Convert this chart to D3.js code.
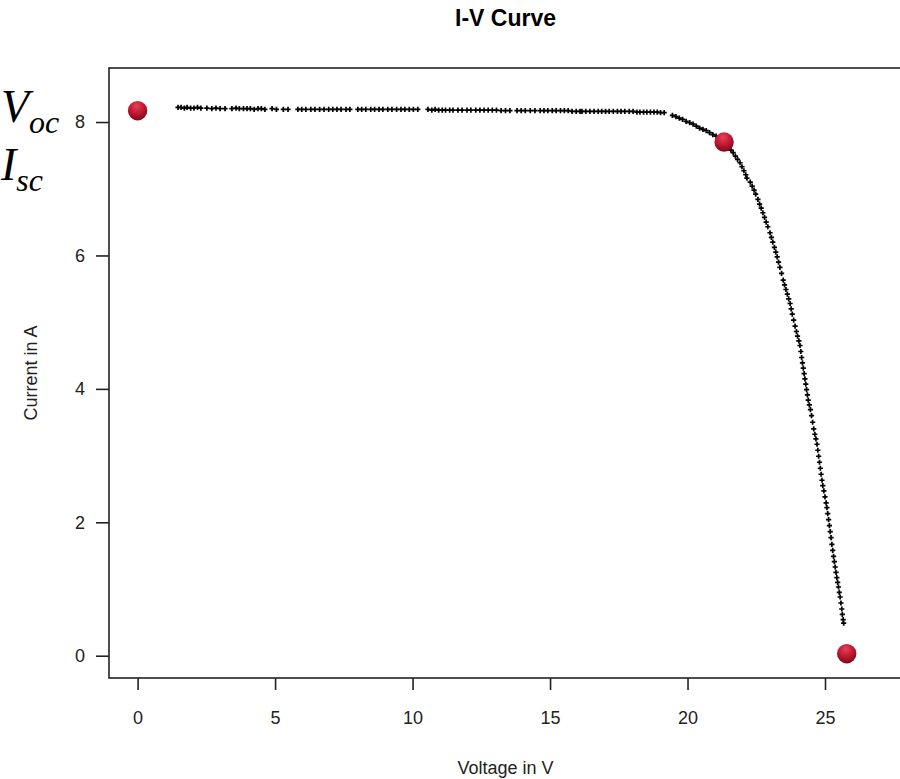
<!DOCTYPE html>
<html>
<head>
<meta charset="utf-8">
<script src="https://cdn.jsdelivr.net/npm/d3@7"></script>
<style>
  html, body { margin: 0; padding: 0; background: #fff; }
  svg { display: block; }
</style>
</head>
<body>
<svg id="chart" width="900" height="779"></svg>
<script>
// Measured I-V samples: voltage (V) and current (A)
const voltage = [
  1.47, 1.58, 1.70, 1.80, 1.93, 2.05, 2.18, 2.30,
  2.52, 2.70, 2.85, 3.00, 3.18,
  3.43, 3.58, 3.70, 3.85, 3.98, 4.10, 4.24, 4.38, 4.50, 4.63,
  4.89, 5.05, 5.30, 5.47,
  5.83, 5.97, 6.12, 6.30, 6.45, 6.62, 6.78, 6.95, 7.10, 7.25, 7.40, 7.58, 7.72,
  8.01, 8.15, 8.30, 8.48, 8.62, 8.78, 8.92,
  9.10, 9.25, 9.42, 9.58, 9.72, 9.88, 10.03, 10.19,
  10.56, 10.70, 10.82, 10.95, 11.08, 11.20, 11.35, 11.47,
  11.65, 11.80, 11.98, 12.12, 12.30, 12.45, 12.60, 12.75, 12.90, 13.05, 13.22, 13.38, 13.54,
  13.80, 13.95, 14.10, 14.28, 14.45,
  14.64, 14.78, 14.92, 15.08, 15.22, 15.38, 15.52, 15.66, 15.80, 15.95, 16.09,
  16.16, 16.30, 16.45, 16.60, 16.75, 16.88, 17.02, 17.15, 17.30, 17.45, 17.58, 17.72, 17.88, 18.02, 18.16,
  18.27, 18.40, 18.52, 18.65, 18.78, 18.90, 19.02, 19.15,
  19.45, 19.58, 19.70, 19.82, 19.95, 20.08, 20.20, 20.32, 20.44, 20.56, 20.68, 20.80, 20.92, 21.04,
  21.14, 21.24, 21.33, 21.42, 21.50, 21.58, 21.66, 21.74, 21.82, 21.91, 21.98, 22.05, 22.12, 22.16,
  22.28, 22.35, 22.42, 22.48, 22.56, 22.62, 22.68, 22.74, 22.80, 22.86, 22.92, 23.00, 23.05, 23.10,
  23.16, 23.21, 23.26, 23.31, 23.36, 23.42, 23.48, 23.53, 23.58, 23.63, 23.68, 23.73, 23.77, 23.81,
  23.86, 23.91, 23.96, 24.00, 24.05, 24.09,
  24.12, 24.15, 24.18, 24.21, 24.24, 24.27, 24.30, 24.33, 24.36, 24.39, 24.43, 24.47, 24.51, 24.55,
  24.59, 24.63, 24.67, 24.71, 24.74, 24.77, 24.80, 24.83, 24.86, 24.89, 24.92, 24.96, 25.00, 25.04,
  25.07, 25.10, 25.13, 25.16, 25.19, 25.22, 25.25, 25.28, 25.31, 25.34, 25.37, 25.40, 25.43, 25.46,
  25.49, 25.52, 25.55, 25.58, 25.61, 25.63, 25.66, 25.68
];
const current = [
  8.22, 8.22, 8.21, 8.22, 8.21, 8.21, 8.22, 8.21,
  8.21, 8.20, 8.21, 8.20, 8.20,
  8.20, 8.21, 8.20, 8.20, 8.20, 8.20, 8.19, 8.20, 8.20, 8.19,
  8.20, 8.19, 8.19, 8.19,
  8.19, 8.19, 8.19, 8.19, 8.19, 8.19, 8.19, 8.19, 8.19, 8.19, 8.19, 8.19, 8.19,
  8.19, 8.19, 8.19, 8.19, 8.19, 8.19, 8.19,
  8.19, 8.19, 8.19, 8.19, 8.19, 8.19, 8.19, 8.19,
  8.19, 8.18, 8.19, 8.18, 8.18, 8.18, 8.18, 8.18,
  8.18, 8.18, 8.18, 8.18, 8.18, 8.18, 8.18, 8.18, 8.18, 8.18, 8.17, 8.17, 8.17,
  8.17, 8.17, 8.17, 8.17, 8.17,
  8.17, 8.17, 8.17, 8.17, 8.17, 8.17, 8.17, 8.17, 8.16, 8.16, 8.16,
  8.16, 8.16, 8.16, 8.16, 8.16, 8.16, 8.16, 8.16, 8.16, 8.16, 8.16, 8.16, 8.16, 8.16, 8.15,
  8.15, 8.15, 8.15, 8.15, 8.15, 8.15, 8.14, 8.14,
  8.10, 8.08, 8.06, 8.04, 8.01, 7.99, 7.97, 7.94, 7.91, 7.89, 7.87, 7.84, 7.81, 7.79,
  7.76, 7.73, 7.70, 7.66, 7.62, 7.58, 7.54, 7.49, 7.44, 7.39, 7.33, 7.27, 7.21, 7.16,
  7.10, 7.04, 6.98, 6.92, 6.84, 6.77, 6.71, 6.64, 6.57, 6.50, 6.43, 6.34, 6.27, 6.20,
  6.12, 6.05, 5.98, 5.90, 5.82, 5.73, 5.63, 5.56, 5.49, 5.42, 5.35, 5.28, 5.20, 5.12,
  5.03, 4.94, 4.86, 4.79, 4.72, 4.65,
  4.56, 4.47, 4.39, 4.31, 4.23, 4.15, 4.07, 3.99, 3.91, 3.83, 3.76, 3.69, 3.60, 3.50,
  3.40, 3.32, 3.25, 3.17, 3.08, 2.99, 2.90, 2.81, 2.72, 2.63, 2.55, 2.47, 2.38, 2.29,
  2.22, 2.13, 2.04, 1.95, 1.86, 1.77, 1.67, 1.58, 1.49, 1.41, 1.33, 1.25, 1.17, 1.10,
  1.03, 0.95, 0.88, 0.79, 0.70, 0.62, 0.54, 0.49
];

// Highlighted operating points: short circuit, maximum power, open circuit
const markerV = [0, 21.33, 25.79];
const markerI = [8.17, 7.70, 0.03];

const xTicks = [0, 5, 10, 15, 20, 25];
const yTicks = [0, 2, 4, 6, 8];

const titleText = "I-V Curve";
const xLabel = "Voltage in V";
const yLabel = "Current in A";

const svg = d3.select("#chart");
const frame = { left: 109, top: 68, right: 902, bottom: 678 };

const x = d3.scaleLinear().domain([-1.04, 27.8]).range([frame.left, frame.right]);
const y = d3.scaleLinear().domain([-0.334, 8.81]).range([frame.bottom, frame.top]);

const sans = "'Liberation Sans', Arial, sans-serif";

// Gradient for the highlighted points
const defs = svg.append("defs");
const grad = defs.append("radialGradient")
  .attr("id", "ball").attr("cx", "45%").attr("cy", "30%").attr("r", "70%")
  .attr("fx", "45%").attr("fy", "25%");
grad.append("stop").attr("offset", "0%").attr("stop-color", "#e0455a");
grad.append("stop").attr("offset", "45%").attr("stop-color", "#c81e36");
grad.append("stop").attr("offset", "100%").attr("stop-color", "#820718");

// Title
svg.append("text")
  .attr("x", (frame.left + frame.right) / 2).attr("y", 26)
  .attr("text-anchor", "middle")
  .attr("font-family", sans).attr("font-weight", "bold").attr("font-size", 23)
  .attr("fill", "#000")
  .text(titleText);

// Axes (ticks and labels only; frame drawn separately)
const xAxis = d3.axisBottom(x).tickValues(xTicks).tickSize(12).tickPadding(21).tickFormat(d3.format("d"));
const yAxis = d3.axisLeft(y).tickValues(yTicks).tickSize(13).tickPadding(11).tickFormat(d3.format("d"));

const gx = svg.append("g").attr("transform", `translate(0,${frame.bottom})`).call(xAxis);
const gy = svg.append("g").attr("transform", `translate(${frame.left},0)`).call(yAxis);
[gx, gy].forEach(g => {
  g.select(".domain").remove();
  g.selectAll(".tick line").attr("stroke", "#222").attr("stroke-width", 1.6);
  g.selectAll(".tick text")
    .attr("font-family", sans).attr("font-size", 18).attr("fill", "#222");
});

// Plot frame
svg.append("rect")
  .attr("x", frame.left).attr("y", frame.top)
  .attr("width", frame.right - frame.left).attr("height", frame.bottom - frame.top)
  .attr("fill", "none").attr("stroke", "#222").attr("stroke-width", 1.6);

// Axis titles
svg.append("text")
  .attr("x", (frame.left + frame.right) / 2).attr("y", 774)
  .attr("text-anchor", "middle")
  .attr("font-family", sans).attr("font-size", 18).attr("fill", "#222")
  .text(xLabel);

svg.append("text")
  .attr("transform", `translate(37,${(frame.top + frame.bottom) / 2}) rotate(-90)`)
  .attr("text-anchor", "middle")
  .attr("font-family", sans).attr("font-size", 18).attr("fill", "#222")
  .text(yLabel);

// Scatter of measured points, drawn as small crosses
const samples = voltage.map((v, i) => ({ v, i: current[i] }));
svg.append("g").selectAll("path")
  .data(samples).join("path")
  .attr("transform", d => `translate(${x(d.v)},${y(d.i)})`)
  .attr("d", "M-2.6,0H2.6M0,-2.6V2.6")
  .attr("stroke", "#000").attr("stroke-width", 1.7).attr("fill", "none");

// Highlighted points
svg.append("g").selectAll("circle")
  .data(markerV.map((v, i) => ({ v, i: markerI[i] })))
  .join("circle")
  .attr("cx", d => x(d.v)).attr("cy", d => y(d.i)).attr("r", 9.7)
  .attr("fill", "url(#ball)");

// Side annotations V_oc and I_sc
const serif = "'Liberation Serif', 'DejaVu Serif', serif";
const ann = [
  { main: "V", sub: "oc", x: 1, y: 122 },
  { main: "I", sub: "sc", x: 1, y: 180 }
];
ann.forEach(a => {
  const t = svg.append("text")
    .attr("x", a.x).attr("y", a.y)
    .attr("font-family", serif).attr("font-style", "italic")
    .attr("font-size", 46).attr("fill", "#000");
  t.append("tspan").text(a.main);
  t.append("tspan").attr("font-size", 32).attr("dy", 11).text(a.sub);
});
</script>
</body>
</html>
